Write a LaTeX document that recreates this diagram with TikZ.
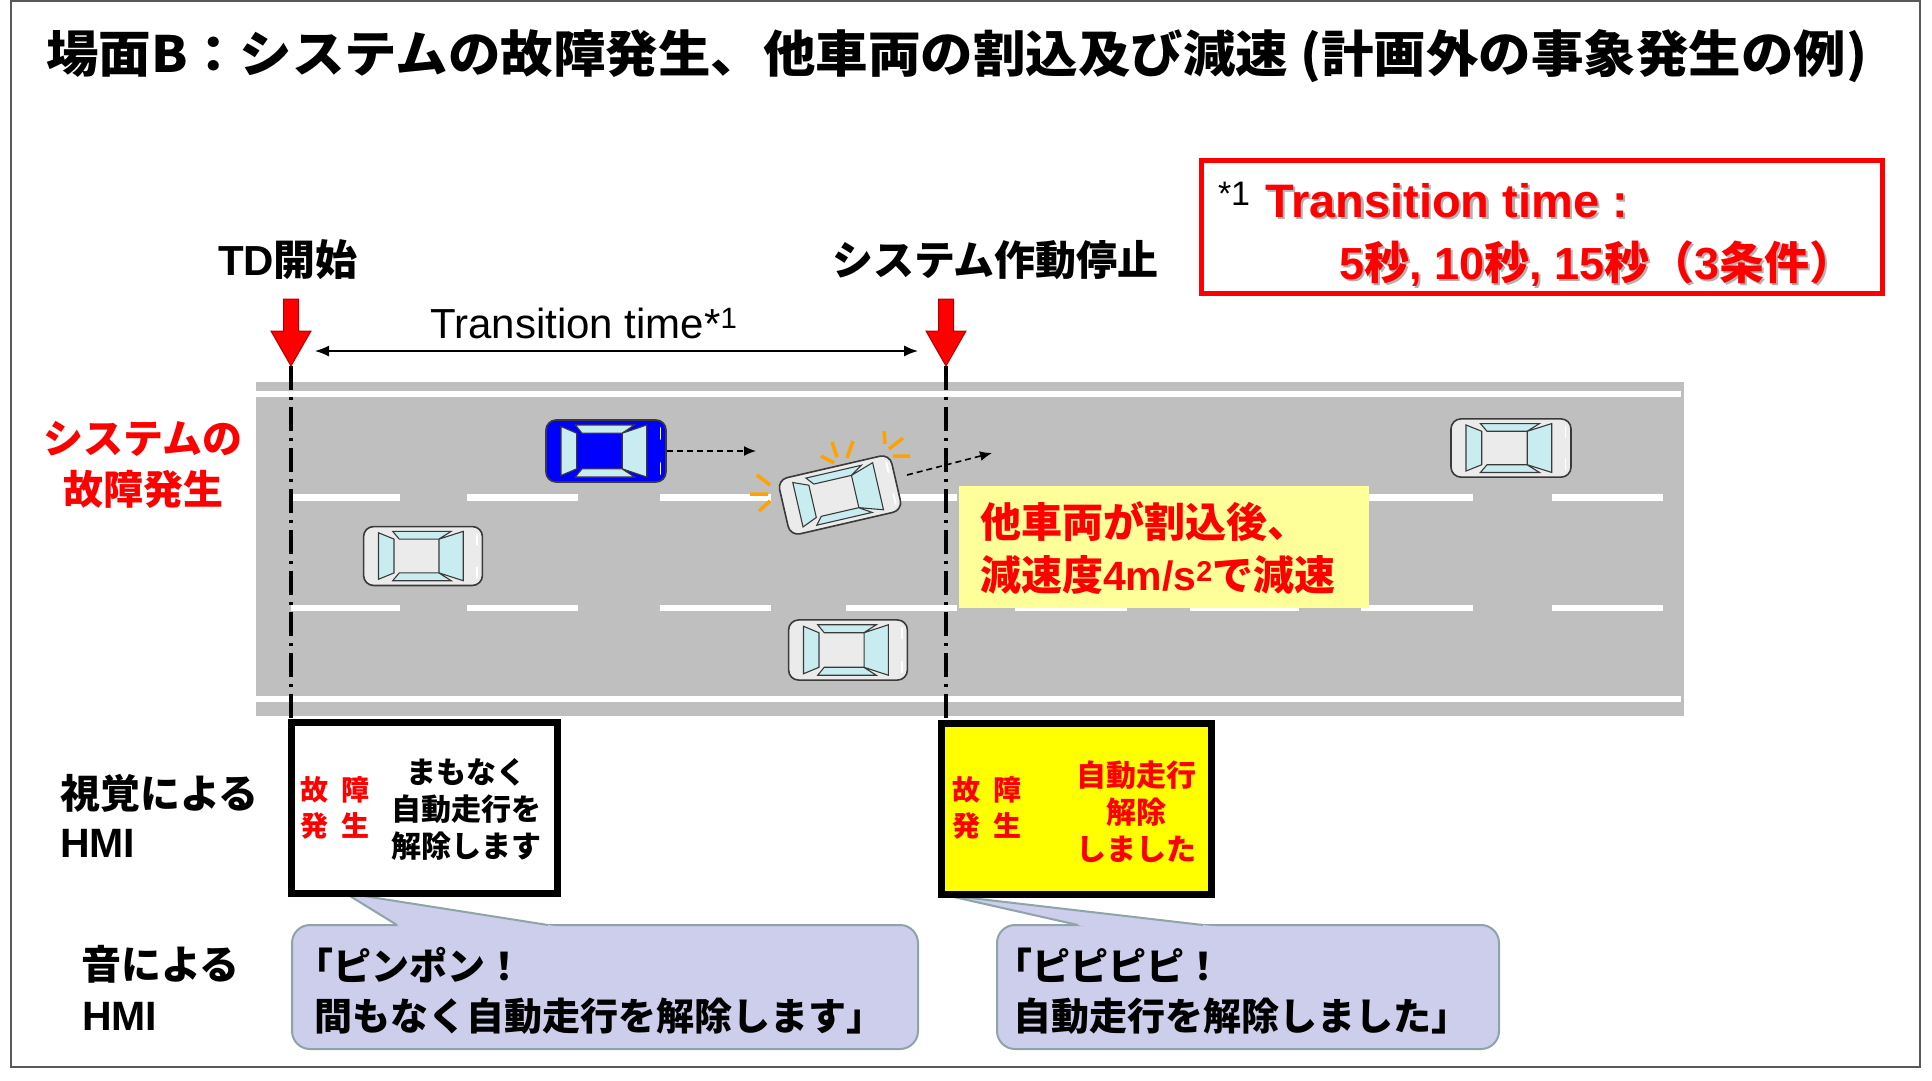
\documentclass[tikz,border=0pt]{standalone}
\usepackage{fontspec}
\setmainfont{Noto Sans CJK JP}
\newfontfamily\ar{Liberation Sans}
\usetikzlibrary{arrows.meta}

\definecolor{roadgray}{HTML}{BFBFBF}
\definecolor{alertred}{HTML}{FF0000}
\definecolor{arrowedge}{HTML}{B00000}
\definecolor{glass}{HTML}{C8ECEF}
\definecolor{carline}{HTML}{3A3A3A}
\definecolor{carwhite}{HTML}{EBEBEB}
\definecolor{carblue}{HTML}{0000FF}
\definecolor{flash}{HTML}{FFA200}
\definecolor{notefill}{HTML}{FFFF99}
\definecolor{dispyellow}{HTML}{FFFF00}
\definecolor{bubblefill}{HTML}{CDCDEC}
\definecolor{bubbleline}{HTML}{8EA4A8}
\definecolor{framegray}{HTML}{595959}

\newcommand\fsz[2]{\fontsize{#1}{#2}\selectfont}

\tikzset{
  % top view of a car heading right
  pics/car/.style={code={
    \draw[fill=#1, draw=carline, line width=1.6pt, rounded corners=10pt] (-60,-31) rectangle (60,31);
    \filldraw[fill=glass, draw=carline, line width=1.1pt]
      (-45,-24.5) -- (-29.3,-17.8) -- (-29.3,17.8) -- (-45,24.5) -- cycle
      (-30.6,-26) -- (28.5,-26) -- (16,-17.8) -- (-24,-17.8) -- cycle
      (-30.6,26) -- (28.5,26) -- (16,17.8) -- (-24,17.8) -- cycle
      (16.2,-17.8) -- (40.7,-26) -- (40.7,26) -- (16.2,17.8) -- cycle;
    \draw[white, line width=1.8pt, line cap=round] (54.5,-23) -- (54.5,-12) (54.5,12) -- (54.5,23);
  }},
  % red marker arrow, tip at the origin
  pics/tdarrow/.style={code={
    \filldraw[fill=alertred, draw=arrowedge, line width=1pt]
      (-7.5,-67) -- (7.5,-67) -- (7.5,-35) -- (20,-35) -- (0,0) -- (-20,-35) -- (-7.5,-35) -- cycle;
  }},
  dashdot/.style={line width=3.5pt, dash pattern=on 24pt off 7pt on 3pt off 7pt},
  movearrow/.style={line width=1.6pt, dash pattern=on 6pt off 4pt, -{Latex[length=12pt,width=10pt]}},
  flashmark/.style={draw=flash, line width=3.5pt},
  hmibox/.style={draw=black, line width=7pt, minimum height=171},
  bubblebody/.style={fill=bubblefill, draw=bubbleline, line width=2pt, rounded corners=18pt, minimum height=124},
  bubbletail/.style={draw=bubbleline, line width=2pt, line join=round},
}

\begin{document}
\begin{tikzpicture}[x=1pt, y=-1pt, every node/.style={inner sep=0pt, outer sep=0pt}]
\useasboundingbox (0,0) rectangle (1932,1080);
\fill[white] (0,0) rectangle (1932,1080);
\draw[framegray, line width=1.8pt] (11,1) rectangle (1920,1067);

% heading
\node[anchor=west, font=\bfseries\fsz{50}{60}] (title) at (46,56)
  {\scalebox{1.05}[1]{場面B：システムの故障発生、他車両の割込及び減速 (計画外の事象発生の例)}};

% footnote box with the transition times
\node[draw=alertred, line width=5pt, minimum width=681, minimum height=133] (ttbox) at (1542,227) {};
\node[anchor=base west, font=\ar\fsz{34}{40}] (ttstar) at (1218,205) {*1};
\node[anchor=base west, font=\ar\bfseries\fsz{47}{56}, text=black!30] (ttheadshadow) at (1267.5,219.5) {Transition time :};
\node[anchor=base west, font=\ar\bfseries\fsz{47}{56}, text=alertred] (tthead) at (1265,217) {Transition time :};
\node[anchor=base west, font=\bfseries\fsz{45}{56}, text=black!30] (ttvalshadow) at (1341.5,281.5)
  {{\ar 5}秒{\ar , 10}秒{\ar , 15}秒（{\ar 3}条件）};
\node[anchor=base west, font=\bfseries\fsz{45}{56}, text=alertred] (ttval) at (1339,279)
  {{\ar 5}秒{\ar , 10}秒{\ar , 15}秒（{\ar 3}条件）};

% event labels above the timeline
\node[font=\bfseries\fsz{42}{50}] (tdlabel) at (288,260) {{\ar TD}開始};
\node[anchor=west, font=\bfseries\fsz{41}{50}] (stoplabel) at (832,260) {システム作動停止};

% road
\fill[roadgray] (256,382) rectangle (1684,716);
\fill[white] (256,391) rectangle (1681,397);
\fill[white] (256,696) rectangle (1681,702);
\foreach \a/\b in {291/400,467/578,660/771,846/957,1015/1127,1190/1299,1361/1473,1552/1663} {
  \fill[white] (\a,494) rectangle (\b,501);
  \fill[white] (\a,605) rectangle (\b,611);
}

% timeline markers
\coordinate (tdTip) at (291,366);
\coordinate (tdFoot) at (291,721);
\coordinate (stopTip) at (946,366);
\coordinate (stopFoot) at (946,721);
\draw[dashdot] (tdTip) -- (tdFoot);
\draw[dashdot] (stopTip) -- (stopFoot);

% vehicles
\pic (carBlue) at (606,451) {car=carblue};
\pic[xscale=0.99, yscale=0.95] (carLeft) at (423,556) {car=carwhite};
\pic[rotate=13, xscale=0.96, yscale=0.93] (carCut) at (840,495) {car=carwhite};
\pic[xscale=0.99, yscale=0.97] (carBottom) at (848,650) {car=carwhite};
\pic[xscale=1.0, yscale=0.94] (carRight) at (1511,448) {car=carwhite};

% blinking marks around the cutting-in car
\draw[flashmark]
  (757,475) -- (770,485)  (750,494) -- (768,494)  (759,511) -- (770,501)
  (821,456) -- (834,463)  (832,442) -- (837,457)  (853,441) -- (847,458)
  (884,431) -- (885,444)  (903,438) -- (889,449)  (893,456) -- (910,456);

% motion arrows
\coordinate (blueNose) at (667,451);
\coordinate (blueAim) at (756,451);
\coordinate (cutNose) at (907,475);
\coordinate (cutAim) at (992,453);
\draw[movearrow] (blueNose) -- (blueAim);
\draw[movearrow] (cutNose) -- (cutAim);

% note on the cut-in
\node[fill=notefill, minimum width=410, minimum height=122] (cutnote) at (1164,547) {};
\node[anchor=west, font=\bfseries\fsz{41}{50}, text=alertred] (cutnoteA) at (980,522) {他車両が割込後、};
\node[anchor=west, font=\bfseries\fsz{41}{50}, text=alertred] (cutnoteB) at (980,575)
  {減速度{\ar 4m/s\textsuperscript{2}}で減速};

% red markers and the transition span
\pic (tdArrow) at (tdTip) {tdarrow};
\pic (stopArrow) at (stopTip) {tdarrow};
\coordinate (spanL) at (315,351);
\coordinate (spanR) at (918,351);
\draw[line width=1.4pt, {Latex[length=14pt,width=11pt]}-{Latex[length=14pt,width=11pt]}] (spanL) -- (spanR);
\node[font=\ar\fsz{42}{50}] (spanlabel) at (584,323) {Transition time*\textsuperscript{1}};

% row labels
\node[font=\bfseries\fsz{40}{51}, text=alertred, align=center] (failLabel) at (143,465) {システムの\\故障発生};
\node[anchor=west, font=\bfseries\fsz{40}{50}] (visLabel) at (60,793) {視覚による};
\node[anchor=west, font=\ar\bfseries\fsz{41}{50}] (visHMI) at (60,843) {HMI};
\node[anchor=west, font=\bfseries\fsz{40}{50}] (sndLabel) at (81,964) {音による};
\node[anchor=west, font=\ar\bfseries\fsz{41}{50}] (sndHMI) at (82,1016) {HMI};

% spoken messages
\node[bubblebody, minimum width=626] (bubWarn) at (605,987) {};
\coordinate (bubWarnTip) at (345,893);
\fill[bubblefill] (bubWarnTip) -- (402,928) -- (567,928) -- cycle;
\draw[bubbletail] (397,925) -- (bubWarnTip) -- (548,925);
\node[anchor=west, font=\bfseries\fsz{38}{50}, align=left] (bubWarnText) at (314,991)
  {\hspace*{-0.5em}「ピンポン！\\間もなく自動走行を解除します」};

\node[bubblebody, minimum width=502] (bubOff) at (1248,987) {};
\coordinate (bubOffTip) at (945,895);
\fill[bubblefill] (bubOffTip) -- (1091,928) -- (1229,928) -- cycle;
\draw[bubbletail] (1078,925) -- (bubOffTip) -- (1203,925);
\node[anchor=west, font=\bfseries\fsz{38}{50}, align=left] (bubOffText) at (1013,991)
  {\hspace*{-0.5em}「ピピピピ！\\自動走行を解除しました」};

% visual displays
\node[hmibox, fill=white, minimum width=266] (hmiWarn) at (424.5,808) {};
\node[font=\bfseries\fsz{28}{36}, text=alertred, align=center] (hmiWarnTag) at (335,808)
  {故\hspace{0.45em}障\\発\hspace{0.45em}生};
\node[font=\bfseries\fsz{30}{37}, align=center] (hmiWarnMsg) at (466,809) {まもなく\\自動走行を\\解除します};

\node[hmibox, fill=dispyellow, minimum width=270] (hmiOff) at (1076.5,809) {};
\node[font=\bfseries\fsz{28}{36}, text=alertred, align=center] (hmiOffTag) at (987,808)
  {故\hspace{0.45em}障\\発\hspace{0.45em}生};
\node[font=\bfseries\fsz{30}{37}, text=alertred, align=center] (hmiOffMsg) at (1136,812) {自動走行\\解除\\しました};
\end{tikzpicture}
\end{document}
